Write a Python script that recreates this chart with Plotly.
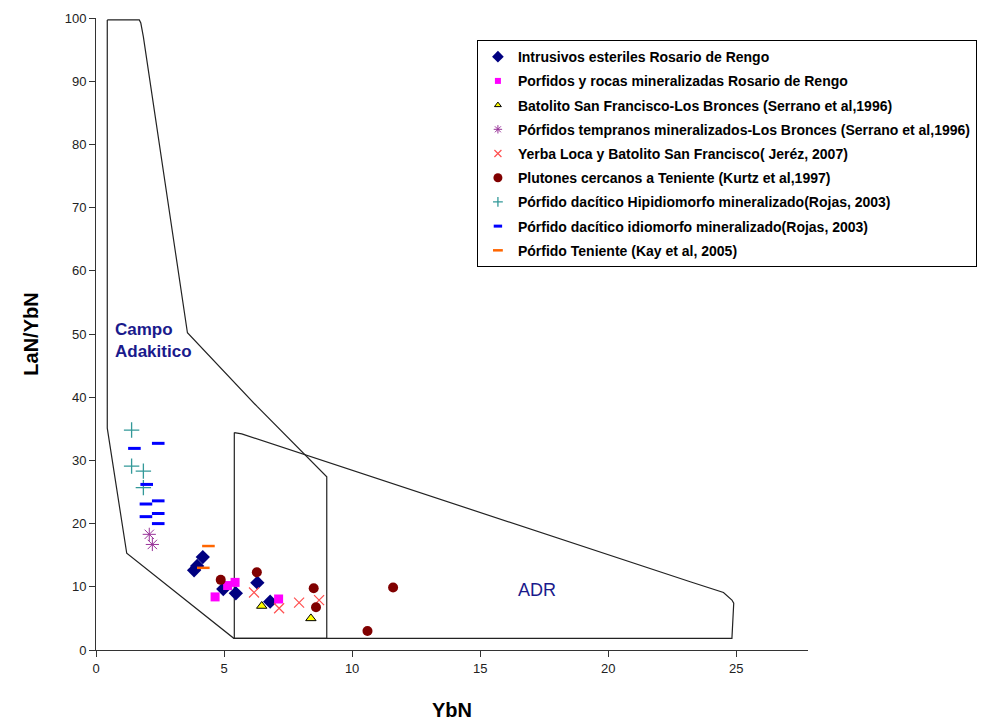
import plotly.graph_objects as go

# ---- data ----
diam_x = [3.83, 3.95, 4.17, 4.97, 5.46, 6.30, 6.80]
diam_y = [12.6, 13.3, 14.7, 9.65, 8.97, 10.65, 7.65]
sq_x = [4.65, 5.14, 5.43, 7.13]
sq_y = [8.4, 10.2, 10.7, 8.07]
tri_x = [6.47, 8.39]
tri_y = [6.96, 5.0]
ast_x = [2.08, 2.20]
ast_y = [18.3, 16.7]
xm_x = [6.17, 7.15, 7.93, 8.71]
xm_y = [9.1, 6.6, 7.5, 7.9]
circ_x = [4.87, 6.28, 8.50, 8.59, 10.6, 11.6]
circ_y = [11.1, 12.3, 9.76, 6.76, 3.0, 9.9]
plus_x = [1.39, 1.39, 1.85, 1.85]
plus_y = [34.8, 29.1, 28.3, 25.7]
bdash_x = [1.50, 2.43, 1.98, 1.95, 2.43, 1.95, 2.43, 2.43]
bdash_y = [31.9, 32.7, 26.2, 23.1, 23.6, 21.1, 21.6, 20.0]
odash_x = [4.39, 4.19]
odash_y = [16.45, 13.0]

adak_x = [0.44, 1.69, 1.75, 1.85, 3.57, 6.3, 9.01, 9.01, 5.38, 1.2, 0.44, 0.44]
adak_y = [99.7, 99.7, 99.2, 97.0, 50.2, 38.5, 27.4, 1.85, 1.85, 15.3, 35.1, 99.7]
adr_x = [5.40, 5.69, 23.2, 24.5, 24.83, 24.9, 24.83, 5.40, 5.40]
adr_y = [34.4, 34.2, 10.8, 9.1, 7.9, 7.4, 1.85, 1.85, 34.4]

names = [
    "Intrusivos esteriles Rosario de Rengo",
    "Porfidos y rocas mineralizadas Rosario de Rengo",
    "Batolito San Francisco-Los Bronces (Serrano et al,1996)",
    "Pórfidos tempranos mineralizados-Los Bronces (Serrano et al,1996)",
    "Yerba Loca y Batolito San Francisco( Jeréz, 2007)",
    "Plutones cercanos a Teniente (Kurtz et al,1997)",
    "Pórfido dacítico Hipidiomorfo mineralizado(Rojas, 2003)",
    "Pórfido dacítico idiomorfo mineralizado(Rojas, 2003)",
    "Pórfido Teniente (Kay et al, 2005)",
]

x_ticks = [0, 5, 10, 15, 20, 25]
y_ticks = [0, 10, 20, 30, 40, 50, 60, 70, 80, 90, 100]

fig = go.Figure()

for px, py in [(adak_x, adak_y), (adr_x, adr_y)]:
    fig.add_trace(go.Scatter(x=px, y=py, mode="lines", line=dict(color="#222", width=1.2),
                             showlegend=False, hoverinfo="skip"))

styles = [
    (diam_x, diam_y, dict(symbol="diamond", size=11, color="#000080"), 9),
    (sq_x, sq_y, dict(symbol="square", size=9, color="#FF00FF"), 6),
    (tri_x, tri_y, dict(symbol="triangle-up", size=9, color="#FFFF00", line=dict(color="black", width=1)), 6),
    (ast_x, ast_y, dict(symbol="asterisk-open", size=11, color="#993399", line=dict(color="#993399", width=1)), 7),
    (xm_x, xm_y, dict(symbol="x-thin-open", size=10, color="#FF5050", line=dict(color="#FF5050", width=1.2)), 7),
    (circ_x, circ_y, dict(symbol="circle", size=10, color="#800000"), 9),
    (plus_x, plus_y, dict(symbol="cross-thin-open", size=11, color="#339999", line=dict(color="#339999", width=1.3)), 7),
    (bdash_x, bdash_y, dict(symbol="line-ew-open", size=9, color="#0000FF", line=dict(color="#0000FF", width=3)), 6),
    (odash_x, odash_y, dict(symbol="line-ew-open", size=9, color="#FF6600", line=dict(color="#FF6600", width=2.5)), 7),
]
for i, (sx, sy, mk, lsz) in enumerate(styles):
    fig.add_trace(go.Scatter(x=sx, y=sy, mode="markers", marker=mk, showlegend=False))
    lmk = dict(mk)
    lmk["size"] = lsz
    fig.add_trace(go.Scatter(x=[None], y=[None], mode="markers", marker=lmk,
                             name=f"<b>{names[i]}</b>", legendgroup=f"g{i}", showlegend=True))

fig.add_annotation(x=0.66, y=49, xref="x", yref="y", text="<b>Campo<br>Adakitico</b>",
                   showarrow=False, xanchor="left", align="left",
                   font=dict(family="Liberation Sans, Arial", size=17, color="#1a1a8c"))
fig.add_annotation(x=17.2, y=9.5, xref="x", yref="y", text="ADR",
                   showarrow=False, font=dict(family="Liberation Sans, Arial", size=18, color="#1a1a8c"))

fig.update_layout(
    width=992, height=724,
    margin=dict(l=96, r=184, t=18, b=74),
    paper_bgcolor="white", plot_bgcolor="white",
    font=dict(family="Liberation Sans, Arial", color="black"),
    legend=dict(x=0.535, y=0.965, xanchor="left", yanchor="top",
                bordercolor="black", borderwidth=1, bgcolor="white",
                font=dict(size=14, family="Liberation Sans, Arial", color="black"),
                tracegroupgap=3, itemsizing="trace", itemwidth=30),
    xaxis=dict(range=[0, 27.8], tickvals=x_ticks, showgrid=False, zeroline=False,
               showline=True, linecolor="#333", ticks="outside", ticklen=6, tickcolor="#333",
               tickfont=dict(size=13, color="#222"), automargin=False,
               title=dict(text="<b>YbN</b>", font=dict(size=20), standoff=28)),
    yaxis=dict(range=[0, 100], tickvals=y_ticks, showgrid=False, zeroline=False,
               showline=True, linecolor="#333", ticks="outside", ticklen=6, tickcolor="#333",
               tickfont=dict(size=13, color="#222"), automargin=False,
               title=dict(text="<b>LaN/YbN</b>", font=dict(size=20), standoff=20)),
)

fig.write_html("out.html")
